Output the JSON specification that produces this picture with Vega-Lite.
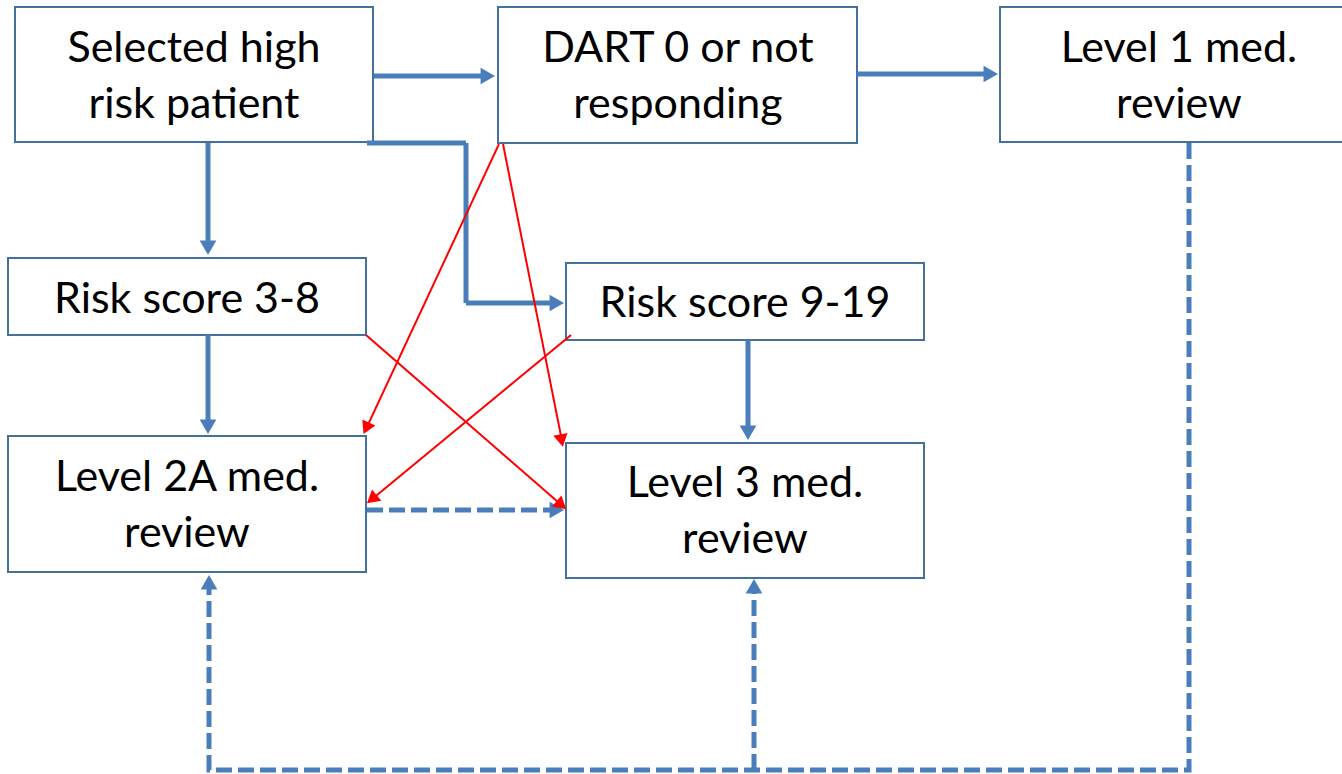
{
  "$schema": "https://vega.github.io/schema/vega-lite/v6.json",
  "autosize": {"type": "none"},
  "width": 1342,
  "height": 774,
  "padding": 0,
  "background": "white",
  "config": {"view": {"stroke": null}},
  "datasets": {
    "boxes": [
      {"id": "b1", "x": 15, "x2": 373, "y": 7, "y2": 142, "label": "Selected high\nrisk patient", "tx": 194, "ty": 62},
      {"id": "b2", "x": 498, "x2": 857, "y": 7, "y2": 143, "label": "DART 0 or not\nresponding", "tx": 678, "ty": 62},
      {"id": "b3", "x": 1000, "x2": 1358, "y": 7, "y2": 142, "label": "Level 1 med.\nreview", "tx": 1179, "ty": 62},
      {"id": "b4", "x": 8, "x2": 366, "y": 258, "y2": 335, "label": "Risk score 3-8", "tx": 187, "ty": 313},
      {"id": "b5", "x": 566, "x2": 924, "y": 263, "y2": 340, "label": "Risk score 9-19", "tx": 745, "ty": 317},
      {"id": "b6", "x": 8, "x2": 366, "y": 436, "y2": 572, "label": "Level 2A med.\nreview", "tx": 187, "ty": 491},
      {"id": "b7", "x": 566, "x2": 924, "y": 443, "y2": 578, "label": "Level 3 med.\nreview", "tx": 745, "ty": 497}
    ],
    "paths": [
      {"path": "p1", "kind": "flow", "step": 1, "x": 374, "y": 76},
      {"path": "p1", "kind": "flow", "step": 2, "x": 488, "y": 76},
      {"path": "p2", "kind": "flow", "step": 1, "x": 857, "y": 74},
      {"path": "p2", "kind": "flow", "step": 2, "x": 991, "y": 74},
      {"path": "p3", "kind": "flow", "step": 1, "x": 208, "y": 143},
      {"path": "p3", "kind": "flow", "step": 2, "x": 208, "y": 248},
      {"path": "p4", "kind": "flow", "step": 1, "x": 367, "y": 143},
      {"path": "p4", "kind": "flow", "step": 2, "x": 466, "y": 143},
      {"path": "p4", "kind": "flow", "step": 3, "x": 466, "y": 303},
      {"path": "p4", "kind": "flow", "step": 4, "x": 557, "y": 303},
      {"path": "p5", "kind": "flow", "step": 1, "x": 208, "y": 335},
      {"path": "p5", "kind": "flow", "step": 2, "x": 208, "y": 427},
      {"path": "p6", "kind": "flow", "step": 1, "x": 748, "y": 340},
      {"path": "p6", "kind": "flow", "step": 2, "x": 748, "y": 433},
      {"path": "p7", "kind": "fallback", "step": 1, "x": 367, "y": 510},
      {"path": "p7", "kind": "fallback", "step": 2, "x": 557, "y": 510},
      {"path": "p8", "kind": "fallback", "step": 1, "x": 1189, "y": 143},
      {"path": "p8", "kind": "fallback", "step": 2, "x": 1189, "y": 770},
      {"path": "p8", "kind": "fallback", "step": 3, "x": 209, "y": 770},
      {"path": "p8", "kind": "fallback", "step": 4, "x": 209, "y": 582},
      {"path": "p9", "kind": "fallback", "step": 1, "x": 754, "y": 770},
      {"path": "p9", "kind": "fallback", "step": 2, "x": 754, "y": 586},
      {"path": "p10", "kind": "cross", "step": 1, "x": 499, "y": 144},
      {"path": "p10", "kind": "cross", "step": 2, "x": 366, "y": 429},
      {"path": "p11", "kind": "cross", "step": 1, "x": 503, "y": 144},
      {"path": "p11", "kind": "cross", "step": 2, "x": 562, "y": 441},
      {"path": "p12", "kind": "cross", "step": 1, "x": 366, "y": 335},
      {"path": "p12", "kind": "cross", "step": 2, "x": 562, "y": 505.5},
      {"path": "p13", "kind": "cross", "step": 1, "x": 571, "y": 335},
      {"path": "p13", "kind": "cross", "step": 2, "x": 371, "y": 500}
    ],
    "heads": [
      {"kind": "flow", "x": 487.8, "y": 76, "dir": 90},
      {"kind": "flow", "x": 990.8, "y": 74, "dir": 90},
      {"kind": "flow", "x": 208, "y": 247.8, "dir": 180},
      {"kind": "flow", "x": 556.8, "y": 303, "dir": 90},
      {"kind": "flow", "x": 208, "y": 426.8, "dir": 180},
      {"kind": "flow", "x": 748, "y": 432.8, "dir": 180},
      {"kind": "fallback", "x": 556.8, "y": 510, "dir": 90},
      {"kind": "fallback", "x": 209, "y": 582.2, "dir": 0},
      {"kind": "fallback", "x": 754, "y": 586.2, "dir": 0},
      {"kind": "cross", "x": 366.2, "y": 428.2, "dir": 205.2},
      {"kind": "cross", "x": 561.6, "y": 440.6, "dir": 168.8},
      {"kind": "cross", "x": 561.4, "y": 505.1, "dir": 131.1},
      {"kind": "cross", "x": 371.8, "y": 499.2, "dir": 230.5}
    ]
  },
  "layer": [
    {
      "data": {"name": "boxes"},
      "mark": {"type": "rect", "fill": "white", "stroke": "#41719c", "strokeWidth": 2, "clip": true},
      "encoding": {
        "x": {"field": "x", "type": "quantitative", "scale": {"domain": [0, 1342], "nice": false, "zero": false}, "axis": null},
        "x2": {"field": "x2"},
        "y": {"field": "y", "type": "quantitative", "scale": {"domain": [0, 774], "nice": false, "zero": false, "reverse": true}, "axis": null},
        "y2": {"field": "y2"}
      }
    },
    {
      "data": {"name": "paths"},
      "mark": {"type": "line", "strokeCap": "butt", "strokeJoin": "miter"},
      "encoding": {
        "x": {"field": "x", "type": "quantitative"},
        "y": {"field": "y", "type": "quantitative"},
        "detail": {"field": "path"},
        "order": {"field": "step", "type": "quantitative"},
        "color": {"field": "kind", "type": "nominal", "legend": null, "scale": {"domain": ["flow", "fallback", "cross"], "range": ["#4a7ebb", "#4a7ebb", "#ff0000"]}},
        "strokeDash": {"field": "kind", "type": "nominal", "legend": null, "scale": {"domain": ["flow", "fallback", "cross"], "range": [[1, 0], [16, 6], [1, 0]]}},
        "strokeWidth": {"field": "kind", "type": "nominal", "legend": null, "scale": {"type": "ordinal", "domain": ["flow", "fallback", "cross"], "range": [5, 5, 2]}}
      }
    },
    {
      "data": {"name": "heads"},
      "mark": {"type": "point", "shape": "triangle-up", "filled": true, "opacity": 1, "strokeWidth": 0},
      "encoding": {
        "x": {"field": "x", "type": "quantitative"},
        "y": {"field": "y", "type": "quantitative"},
        "angle": {"field": "dir", "type": "quantitative", "scale": null},
        "color": {"field": "kind", "type": "nominal", "legend": null, "scale": {"domain": ["flow", "fallback", "cross"], "range": ["#4a7ebb", "#4a7ebb", "#ff0000"]}},
        "size": {"field": "kind", "type": "nominal", "legend": null, "scale": {"type": "ordinal", "domain": ["flow", "fallback", "cross"], "range": [280, 280, 210]}}
      }
    },
    {
      "data": {"name": "boxes"},
      "mark": {"type": "text", "align": "center", "baseline": "alphabetic", "lineBreak": "\n", "lineHeight": 56, "font": "Lato", "fontSize": 43, "color": "black"},
      "encoding": {
        "x": {"field": "tx", "type": "quantitative"},
        "y": {"field": "ty", "type": "quantitative"},
        "text": {"field": "label"}
      }
    }
  ]
}
